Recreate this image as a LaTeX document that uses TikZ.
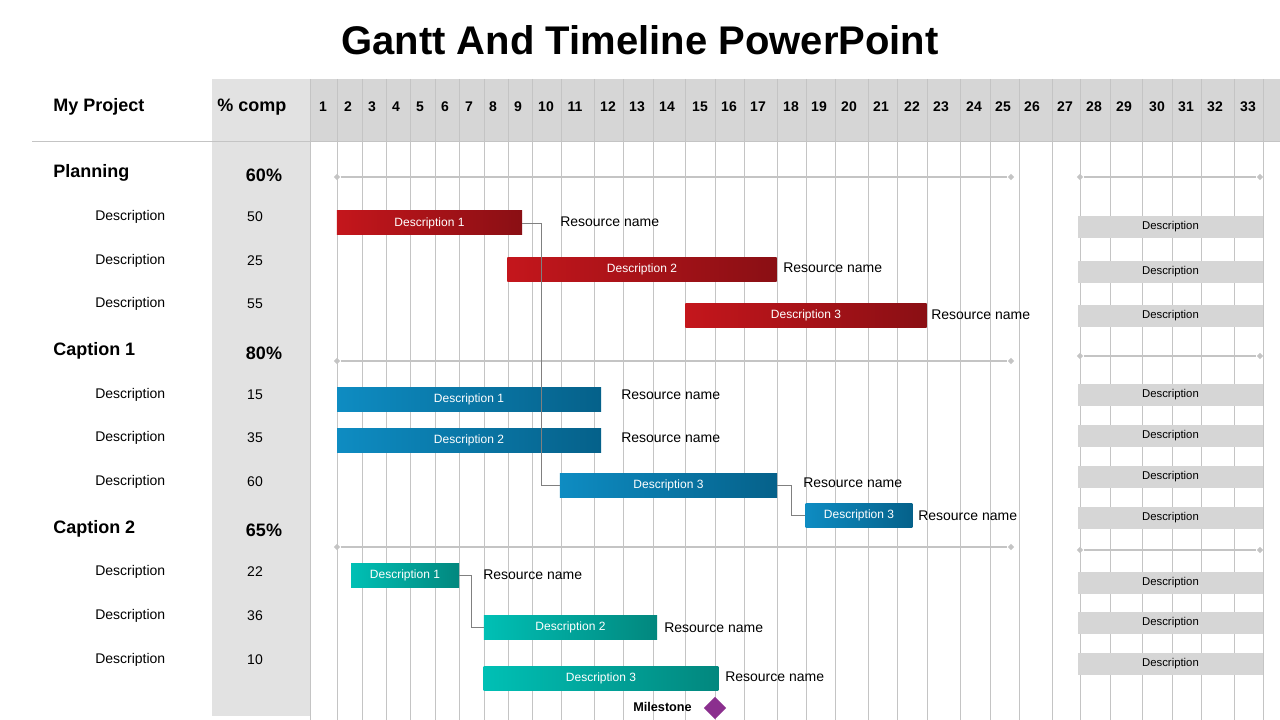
\documentclass[tikz,border=0pt]{standalone}
\usepackage{fontspec}
\setmainfont{Liberation Sans}
\usetikzlibrary{positioning, calc, shapes}
\definecolor{hdrgray}{HTML}{D6D6D6}
\definecolor{colgray}{HTML}{E2E2E2}
\definecolor{gridgray}{HTML}{C4C4C4}
\definecolor{redA}{HTML}{C4161C}
\definecolor{redB}{HTML}{8A0F14}
\definecolor{blueA}{HTML}{0E8CC2}
\definecolor{blueB}{HTML}{05618A}
\definecolor{tealA}{HTML}{00C0B5}
\definecolor{tealB}{HTML}{02877E}
\definecolor{milecol}{HTML}{8B2F8E}
\tikzset{bar/.style={minimum height=18pt, inner sep=0pt, text=white, font=\fontsize{9}{10}\selectfont}}
\tikzset{redbar/.append style={bar, left color=redA, right color=redB}}
\tikzset{bluebar/.append style={bar, left color=blueA, right color=blueB}}
\tikzset{tealbar/.append style={bar, left color=tealA, right color=tealB}}
\tikzset{graybox/.style={fill=hdrgray, minimum width=139pt, minimum height=17pt, inner sep=0pt, font=\fontsize{8.5}{10}\selectfont}}
\tikzset{resource/.style={anchor=west, inner sep=0pt, font=\fontsize{10.5}{12}\selectfont}}
\tikzset{desc/.style={anchor=west, inner sep=0pt, font=\fontsize{10.5}{12}\selectfont}}
\tikzset{heading/.style={anchor=west, inner sep=0pt, font=\bfseries\fontsize{13.5}{15}\selectfont}}
\tikzset{span/.style={draw=gridgray, line width=1.5pt}}
\tikzset{tip/.style={diamond, fill=gridgray, inner sep=0pt, minimum size=5pt}}
\tikzset{link/.style={draw=gray, line width=0.6pt}}
\begin{document}
\begin{tikzpicture}[x=0.75pt, y=-0.75pt]
      \useasboundingbox (0,0) rectangle (1280,720);
      \fill[white] (0,0) rectangle (1280,720);

      % header and left column
      \fill[hdrgray] (212,79) rectangle (1280,141);
      \fill[colgray] (212,79) rectangle (310,716);
      \foreach \gx in {310,337,362,386,410,435,459,484,508,532,561,594,623,653,685,715,744,777,806,835,868,897,927,960,990,1019,1052,1080,1110,1142,1172,1201,1234,1263}
        \draw[gridgray, line width=0.7pt] (\gx,79) -- (\gx,720);
      \draw[gridgray, line width=0.7pt] (32,141) -- (1280,141);

      \node (title) at (640,40) {\bfseries\fontsize{30}{34}\selectfont Gantt And Timeline PowerPoint};
      \node[heading] (proj) at (53,107) {My Project};
      \node[heading, anchor=center] (comp) at (252,107) {\% comp};

      % day numbers
      \foreach \n/\cx in {1/323,2/348,3/372,4/396,5/420,6/445,7/469,8/493,9/518,10/546,11/575,12/608,13/637,14/667,15/700,16/729,17/758,18/791,19/819,20/849,21/881,22/912,23/941,24/974,25/1003,26/1032,27/1065,28/1094,29/1124,30/1157,31/1186,32/1215,33/1248}
        \node[font=\bfseries\fontsize{10.5}{12}\selectfont] (d\n) at (\cx,107) {\n};

      % sections
      \node[heading] (sec1) at (53,173) {Planning};
      \node[heading] (sec2) at (53,351) {Caption 1};
      \node[heading] (sec3) at (53,529) {Caption 2};
      \node[heading, anchor=center] (pc1) at (264,175) {60\%};
      \node[heading, anchor=center] (pc2) at (264,353) {80\%};
      \node[heading, anchor=center] (pc3) at (264,530) {65\%};

      \foreach \ry/\val [count=\i] in {217/50,261/25,304/55,395/15,438/35,482/60,572/22,616/36,660/10} {
        \node[desc] (row\i) at (95,\ry) {Description};
        \node[desc, anchor=center] (val\i) at (255,\ry) {\val};
      }

      % span lines
      \foreach \sy/\ty [count=\i] in {177/177,361/356,547/550} {
        \node[tip] (sa\i) at (337,\sy) {};
        \node[tip] (sb\i) at (1011,\sy) {};
        \node[tip] (sc\i) at (1080,\ty) {};
        \node[tip] (sd\i) at (1260,\ty) {};
        \draw[span] (sa\i) -- (sb\i);
        \draw[span] (sc\i) -- (sd\i);
      }

      % right description boxes
      \foreach \by [count=\i] in {227,272,316,395,436,477,518,583,623,664}
        \node[graybox] (box\i) at (1170.5,\by) {Description};

      % planning bars
      \node[redbar, minimum width=139pt] (r1) at (429.5,223) {Description 1};
      \node[redbar, minimum width=202pt] (r2) at (642,269) {Description 2};
      \node[redbar, minimum width=181pt] (r3) at (806,315) {Description 3};
      \node[resource] (rr1) at (560,222) {Resource name};
      \node[resource] (rr2) at (783,268) {Resource name};
      \node[resource] (rr3) at (931,315) {Resource name};

      % caption 1 bars
      \node[bluebar, minimum width=198pt] (b1) at (469,399) {Description 1};
      \node[bluebar, minimum width=198pt] (b2) at (469,440) {Description 2};
      \node[bluebar, minimum width=163pt] (b3) at (668.5,485) {Description 3};
      \node[bluebar, minimum width=80pt] (b4) at (859,515.5) {Description 3};
      \node[resource] (rb1) at (621,395) {Resource name};
      \node[resource] (rb2) at (621,438) {Resource name};
      \node[resource] (rb3) at (803,483) {Resource name};
      \node[resource] (rb4) at (918,516) {Resource name};

      % caption 2 bars
      \node[tealbar, minimum width=81pt] (t1) at (405,575) {Description 1};
      \node[tealbar, minimum width=130pt] (t2) at (570.5,627) {Description 2};
      \node[tealbar, minimum width=176pt] (t3) at (601,678) {Description 3};
      \node[resource] (rt1) at (483,575) {Resource name};
      \node[resource] (rt2) at (664,628) {Resource name};
      \node[resource] (rt3) at (725,677) {Resource name};

      % links
      \draw[link] (r1.east) -| (541,485) -- (b3.west);
      \draw[link] (b3.east) -| (791,515.5) -- (b4.west);
      \draw[link] (t1.east) -| (471,627) -- (t2.west);

      % milestone
      \node[diamond, fill=milecol, inner sep=0pt, minimum size=17pt] (mile) at (715,708) {};
      \node[anchor=east, inner sep=0pt, font=\bfseries\fontsize{9.5}{11}\selectfont] (miletext) at (692,707) {Milestone};
\end{tikzpicture}
\end{document}
